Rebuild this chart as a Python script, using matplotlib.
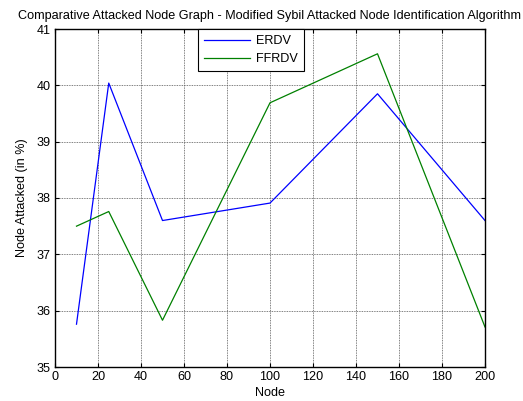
import matplotlib
matplotlib.use("Agg")
import matplotlib.pyplot as plt

# valores
nodes = [10, 25, 50, 100, 150, 200]
erdv = [35.76, 40.04, 37.60, 37.91, 39.85, 37.60]
ffrdv = [37.50, 37.76, 35.83, 39.69, 40.56, 35.71]

x_ticks = list(range(0, 201, 20))
y_ticks = list(range(35, 42))

fs = 9.1
plt.rcParams['font.family'] = ['Liberation Sans', 'DejaVu Sans']
plt.rcParams['font.size'] = fs

fig = plt.figure(figsize=(5.23, 4.01), dpi=100)
ax = fig.add_axes([55/523, 34/401, 430/523, 338/401])

ax.plot(nodes, erdv, color=(0, 0, 1), lw=0.9, label='ERDV')
ax.plot(nodes, ffrdv, color=(0, 0.5, 0), lw=0.9, label='FFRDV')

ax.set_xlim(0, 200)
ax.set_ylim(35, 41)
ax.set_xticks(x_ticks)
ax.set_yticks(y_ticks)
ax.tick_params(direction='in', top=True, right=True, length=3, width=0.8, labelsize=fs, pad=3)
ax.grid(True, color='#555555', linestyle=(0, (1, 1)), linewidth=0.6)

for s in ax.spines.values():
    s.set_linewidth(1.0)

ax.set_title('Comparative Attacked Node Graph - Modified Sybil Attacked Node Identification Algorithm',
             fontsize=fs, pad=7)
ax.set_xlabel('Node', labelpad=3)
ax.set_ylabel('Node Attacked (in %)', labelpad=6)

leg = ax.legend(loc='upper left', bbox_to_anchor=(143/430, 1.0), fancybox=False,
                edgecolor='black', framealpha=1, borderaxespad=0, handlelength=3.6,
                fontsize=fs, borderpad=0.5, labelspacing=0.45, handletextpad=0.5)
leg.get_frame().set_linewidth(0.8)

fig.savefig('out.png', dpi=100)
